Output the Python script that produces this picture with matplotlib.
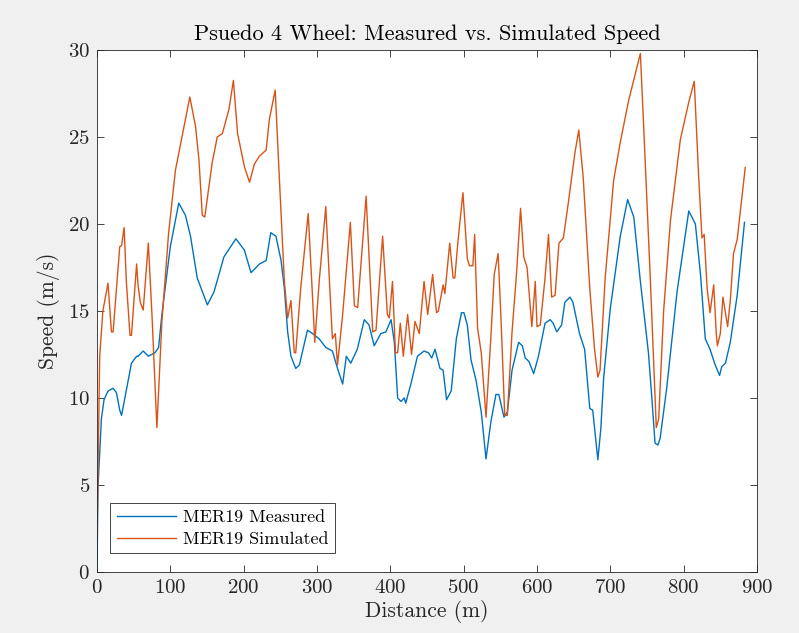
import matplotlib
matplotlib.use("Agg")
import matplotlib.pyplot as plt

# MATLAB-like look with a LaTeX-ish serif font
plt.rcParams['font.family'] = ['cmr10', 'DejaVu Serif']
plt.rcParams['mathtext.fontset'] = 'cm'
plt.rcParams['axes.formatter.use_mathtext'] = True

# measured speed
dist_meas = [0, 1.4, 6, 9.6, 15, 22, 26.6, 31, 33.5, 38, 47, 54, 56, 63, 70, 79, 84,
             88.5, 100, 111.5, 120.6, 127.5, 136.7, 150.5, 159.6, 173, 189.4, 201, 210,
             221.5, 230.7, 237, 244, 251, 255.5, 260, 264.5, 271, 276, 287, 294, 303,
             312, 321, 328, 335, 340, 346, 355, 364.5, 371, 378, 387, 394, 401, 405.5,
             410, 414.5, 419, 421, 428, 437, 446, 452, 456.5, 461, 467.7, 472, 476.7,
             483, 490, 497, 500.4, 505, 510, 517, 524, 530.5, 537, 544, 548, 555, 559.6,
             566, 575, 580, 584, 589, 595.5, 602, 611, 618, 622, 627, 633.6, 638, 645,
             649, 658, 665, 672, 676, 683, 687, 691, 700, 713.6, 723.6, 732, 741, 752,
             757, 761, 765, 768, 777, 791, 800, 807, 816, 823, 829.5, 836, 843, 849,
             852, 857, 863.6, 873, 883]
speed_meas = [0, 4.9, 8.8, 9.9, 10.4, 10.56, 10.3, 9.3, 9.0, 10.0, 12.0, 12.4, 12.4,
              12.7, 12.4, 12.6, 12.9, 14.8, 18.7, 21.2, 20.5, 19.3, 16.9, 15.35, 16.1,
              18.1, 19.15, 18.5, 17.2, 17.7, 17.9, 19.5, 19.3, 17.9, 16.3, 13.8, 12.4,
              11.7, 11.9, 13.9, 13.7, 13.4, 12.9, 12.7, 11.7, 10.8, 12.4, 12.0, 12.8,
              14.5, 14.2, 13.0, 13.7, 13.8, 14.5, 13.2, 10.0, 9.8, 10.0, 9.7, 10.8, 12.4,
              12.7, 12.6, 12.3, 12.8, 11.7, 11.6, 9.9, 10.4, 13.4, 14.9, 14.9, 14.2,
              12.2, 11.0, 9.2, 6.5, 8.6, 10.2, 10.2, 8.9, 9.2, 11.6, 13.2, 13.0, 12.3,
              12.1, 11.4, 12.4, 14.3, 14.5, 14.3, 13.8, 14.2, 15.5, 15.8, 15.5, 13.7,
              12.8, 9.4, 9.3, 6.45, 8.2, 11.2, 15.15, 19.3, 21.4, 20.4, 16.7, 12.6, 9.8,
              7.4, 7.3, 7.7, 10.6, 16.1, 18.7, 20.75, 20.0, 17.1, 13.4, 12.8, 11.9,
              11.3, 11.8, 12.0, 13.2, 15.9, 20.1]

# simulated speed
dist_sim = [0, 3.7, 8, 15, 19.7, 22, 31, 33.5, 37, 40, 45, 47, 54, 56, 59, 63, 70, 75,
            81.7, 88.5, 97.7, 107, 120.6, 126.6, 134.4, 139, 143.6, 147, 157, 164, 171,
            180, 186, 191.7, 201, 208, 214.7, 221.5, 230.7, 235, 243, 248.6, 255.5,
            260, 264.5, 269, 271, 278, 288, 294, 297, 303, 312, 317, 321, 325, 328,
            335, 345.5, 351, 355.5, 367, 376, 380.5, 389.5, 396, 398.6, 403, 407, 410,
            413.6, 417.7, 423.6, 429, 433.6, 439.5, 446, 451, 457.7, 463, 465.5, 472,
            474.4, 481, 485.6, 488, 492, 499, 505, 508, 512.6, 515, 519, 524, 530.5,
            537, 541.7, 547, 550.7, 556, 559.6, 566, 572, 577.6, 582, 586.5, 593,
            597.7, 600, 604.5, 611, 615.7, 620, 624.7, 630, 636, 643, 651.6, 657, 663,
            672, 678.5, 683, 686, 693, 704.5, 713.6, 725, 741, 745.5, 754.5, 762.7,
            766, 772.7, 782, 795.5, 807, 814.5, 820.5, 825, 828, 832, 836, 841, 844.5,
            846, 850, 853.6, 860, 863.6, 868, 873, 884]
speed_sim = [2.1, 12.4, 15.0, 16.6, 13.8, 13.8, 18.7, 18.75, 19.8, 16.7, 13.6, 13.6,
             17.7, 16.5, 15.5, 15.05, 18.9, 14.75, 8.3, 14.4, 19.5, 23.1, 26.0, 27.3,
             25.6, 23.7, 20.5, 20.4, 23.5, 25.0, 25.2, 26.6, 28.25, 25.2, 23.3, 22.4,
             23.45, 23.9, 24.25, 26.0, 27.7, 22.7, 16.7, 14.6, 15.6, 12.6, 12.6, 16.4,
             20.6, 15.75, 13.2, 16.7, 21.0, 16.7, 13.4, 13.7, 11.9, 14.8, 20.1, 15.3,
             15.2, 21.6, 13.8, 13.9, 19.3, 14.8, 14.6, 16.7, 12.6, 12.6, 14.3, 12.4,
             14.8, 12.5, 14.4, 13.7, 16.7, 14.8, 17.1, 14.9, 15.0, 16.5, 16.0, 18.9,
             16.9, 16.9, 18.9, 21.8, 18.0, 17.6, 17.6, 19.4, 14.0, 12.6, 8.9, 13.4,
             17.1, 18.3, 14.8, 9.0, 9.0, 13.8, 17.1, 20.9, 18.1, 17.5, 14.1, 16.7,
             14.1, 14.2, 16.9, 19.4, 15.8, 15.9, 18.9, 19.2, 21.3, 24.05, 25.4, 22.7,
             16.3, 12.8, 11.2, 11.6, 16.9, 22.5, 24.7, 27.1, 29.8, 25.6, 16.9, 8.3,
             8.8, 15.0, 20.2, 24.85, 27.0, 28.2, 22.7, 19.2, 19.4, 16.3, 14.9, 16.5,
             13.7, 13.0, 13.7, 15.8, 14.1, 15.6, 18.3, 19.1, 23.25]

xticks = list(range(0, 1000, 100))
yticks = list(range(0, 35, 5))

fig = plt.figure(figsize=(7.99, 6.33), dpi=100)
fig.patch.set_facecolor('#f0f0f0')
ax = fig.add_axes([0.1214, 0.0964, 0.8260, 0.8246])
ax.set_facecolor('white')

ax.plot(dist_meas, speed_meas, color='#0072BD', lw=1.0, label='MER19 Measured')
ax.plot(dist_sim, speed_sim, color='#D95319', lw=1.0, label='MER19 Simulated')

ax.set_xlim(0, 900)
ax.set_ylim(0, 30)
ax.set_xticks(xticks)
ax.set_yticks(yticks)
ax.tick_params(direction='in', top=True, right=True, labelsize=15, length=5,
               width=0.6, colors='#262626', pad=5)
for s in ax.spines.values():
    s.set_color('#262626')
    s.set_linewidth(0.6)

ax.set_xlabel('Distance (m)', fontsize=15.5, color='#262626', labelpad=2)
ax.set_ylabel('Speed (m/s)', fontsize=15.5, color='#262626', labelpad=6)
ax.set_title('Psuedo 4 Wheel: Measured vs. Simulated Speed', fontsize=16, color='black', pad=7)

leg = ax.legend(loc='lower left', bbox_to_anchor=(0.02, 0.036), borderaxespad=0,
                fontsize=13, fancybox=False, edgecolor='#262626', framealpha=1,
                handlelength=3.3, handletextpad=0.4, borderpad=0.35, labelspacing=0.35)
leg.get_frame().set_linewidth(0.6)

fig.savefig('out.png', dpi=100, facecolor=fig.get_facecolor())
